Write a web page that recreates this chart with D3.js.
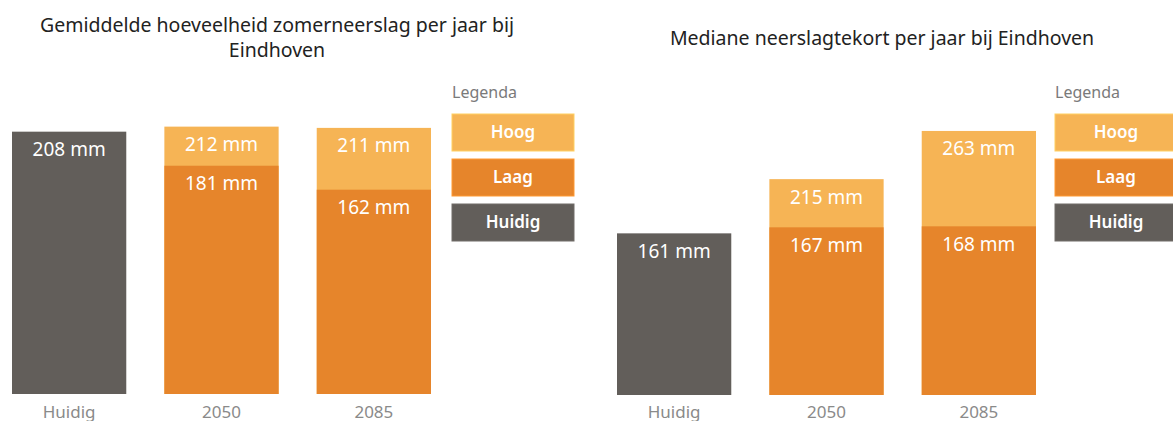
<!DOCTYPE html>
<html>
<head>
<meta charset="utf-8">
<script src="https://cdn.jsdelivr.net/npm/d3@7"></script>
<style>
  html, body { margin: 0; padding: 0; background: #fff; }
  svg { display: block; }
</style>
</head>
<body>
<div id="chart"></div>
<script>
// Data
var categories = ["Huidig", "2050", "2085"];
var zomerHuidig = [208, null, null];
var zomerLaag = [null, 181, 162];
var zomerHoog = [null, 212, 211];
var tekortHuidig = [161, null, null];
var tekortLaag = [null, 167, 168];
var tekortHoog = [null, 215, 263];
var legendLabels = ["Hoog", "Laag", "Huidig"];

var colors = { Hoog: '#f6b455', Laag: '#e6852b', Huidig: '#625e5a' };
var font = "'Noto Sans', sans-serif";

var svg = d3.select('#chart').append('svg')
  .attr('width', 1173)
  .attr('height', 421)
  .attr('font-family', font);

function drawPanel(p) {
  var g = svg.append('g');

  var x = d3.scaleBand()
    .domain(categories)
    .range(p.xRange)
    .paddingInner(p.padding)
    .paddingOuter(0);

  var y = d3.scaleLinear()
    .domain(p.yDomain)
    .range(p.yRange);

  // title
  var title = g.append('text')
    .attr('text-anchor', 'middle')
    .attr('font-size', 19.5)
    .attr('fill', '#222');
  p.title.forEach(function (line, i) {
    title.append('tspan')
      .attr('x', p.titleX)
      .attr('y', p.titleY + i * 25)
      .text(line);
  });

  // bars: huidig, then hoog behind laag (overlapping, not stacked)
  var series = [
    { key: 'Huidig', values: p.huidig },
    { key: 'Hoog', values: p.hoog },
    { key: 'Laag', values: p.laag }
  ];

  series.forEach(function (s) {
    var rows = categories.map(function (c, i) { return { cat: c, v: s.values[i] }; })
      .filter(function (d) { return d.v != null; });

    g.selectAll('.bar-' + s.key).data(rows).enter().append('rect')
      .attr('class', 'bar-' + s.key)
      .attr('x', d => x(d.cat))
      .attr('width', x.bandwidth())
      .attr('y', d => y(d.v))
      .attr('height', d => y(0) - y(d.v))
      .attr('fill', colors[s.key]);

    g.selectAll('.lbl-' + s.key).data(rows).enter().append('text')
      .attr('class', 'lbl-' + s.key)
      .attr('x', d => x(d.cat) + x.bandwidth() / 2)
      .attr('y', d => y(d.v) + 24.5)
      .attr('text-anchor', 'middle')
      .attr('font-size', 19)
      .attr('fill', '#fff')
      .text(d => d.v + ' mm');
  });

  // category labels
  var axis = d3.axisBottom(x).tickSize(0).tickPadding(0);
  var ax = g.append('g')
    .attr('transform', 'translate(0,418)')
    .call(axis);
  ax.select('.domain').remove();
  ax.selectAll('text')
    .attr('font-family', font)
    .attr('font-size', 17)
    .attr('fill', '#8a8a8a')
    .attr('y', 0)
    .attr('dy', 0);

  // legend
  var lg = g.append('g').attr('transform', 'translate(' + p.legendX + ',0)');
  lg.append('text')
    .attr('x', 0)
    .attr('y', 98)
    .attr('font-size', 16)
    .attr('fill', '#7a7a7a')
    .text('Legenda');

  var item = lg.selectAll('.legend-item').data(legendLabels).enter().append('g')
    .attr('class', 'legend-item')
    .attr('transform', (d, i) => 'translate(0,' + (114 + i * 45) + ')');
  item.append('rect')
    .attr('width', 122)
    .attr('height', 37)
    .attr('fill', d => colors[d])
    .attr('stroke', d => d3.color(colors[d]).brighter(0.4))
    .attr('stroke-width', 1);
  item.append('text')
    .attr('x', 61)
    .attr('y', 24)
    .attr('text-anchor', 'middle')
    .attr('font-size', 17)
    .attr('font-weight', 600)
    .attr('fill', '#fff')
    .text(d => d);
}

drawPanel({
  title: ['Gemiddelde hoeveelheid zomerneerslag per jaar bij', 'Eindhoven'],
  titleX: 277, titleY: 31.5,
  xRange: [12, 431], padding: 0.25,
  yDomain: [0, 250], yRange: [394, 78.7],
  huidig: zomerHuidig, laag: zomerLaag, hoog: zomerHoog,
  legendX: 452
});

drawPanel({
  title: ['Mediane neerslagtekort per jaar bij Eindhoven'],
  titleX: 882, titleY: 45,
  xRange: [617, 1036], padding: 0.25,
  yDomain: [0, 300], yRange: [395, 93.8],
  huidig: tekortHuidig, laag: tekortLaag, hoog: tekortHoog,
  legendX: 1055
});
</script>
</body>
</html>
